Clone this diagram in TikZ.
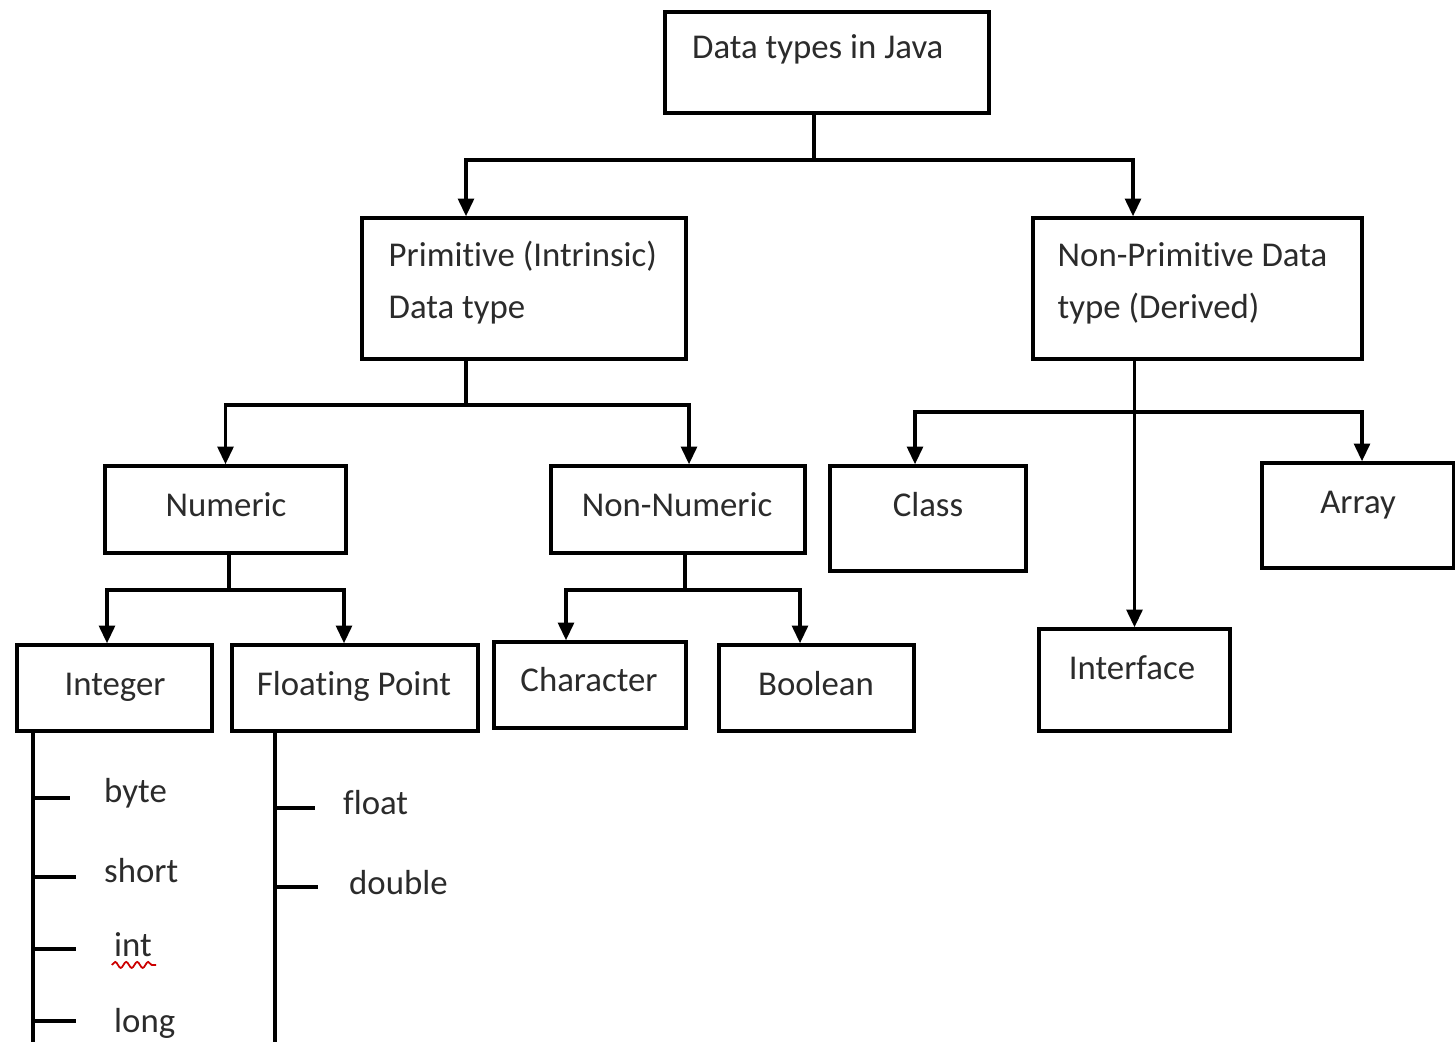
\documentclass[tikz,border=0pt]{standalone}
\usepackage{fontspec}
\setmainfont[Ligatures=NoCommon]{Carlito}
\usetikzlibrary{arrows.meta,calc,decorations.pathmorphing}
\definecolor{Ink}{HTML}{2B2B2B}

\begin{document}
\begin{tikzpicture}[every node/.style={font=\fontsize{9.9}{14.8}\selectfont,text=Ink},box/.style={draw=black,line width=1pt,inner sep=0pt},lbl/.style={inner sep=1pt,text height=1.5ex,text depth=.25ex},twoline/.style={inner sep=0pt,align=left,anchor=west},wire/.style={line width=0.9pt,draw=black},arrow/.style={-{Triangle[length=5pt,width=4.5pt]},line width=0.9pt,draw=black},squig/.style={draw=red!80!black,line width=0.5pt,decorate,decoration={snake,amplitude=0.3mm,segment length=1.1mm}}]
\useasboundingbox (0,0) rectangle (14.55,-10.42);
\fill[white] (0,0) rectangle (14.55,-10.42);

% boxes
\node[box,minimum width=3.24cm,minimum height=1.01cm] (java) at (8.27,-0.625) {}; \node[lbl,anchor=west] (javaT) at (6.88,-0.48) {Data types in Java};
\node[box,minimum width=3.24cm,minimum height=1.41cm] (prim) at (5.24,-2.885) {}; \node[twoline] (primT) at (3.88,-2.83) {Primitive (Intrinsic)\\Data type};
\node[box,minimum width=3.29cm,minimum height=1.41cm] (nprim) at (11.975,-2.885) {}; \node[twoline] (nprimT) at (10.57,-2.83) {Non-Primitive Data\\type (Derived)};
\node[box,minimum width=2.41cm,minimum height=0.87cm] (num) at (2.255,-5.095) {}; \node[lbl] (numT) at (2.26,-5.06) {Numeric};
\node[box,minimum width=2.54cm,minimum height=0.87cm] (nnum) at (6.78,-5.095) {}; \node[lbl] (nnumT) at (6.77,-5.06) {Non-Numeric};
\node[box,minimum width=1.96cm,minimum height=1.05cm] (cls) at (9.28,-5.185) {}; \node[lbl] (clsT) at (9.28,-5.06) {Class};
\node[box,minimum width=1.92cm,minimum height=1.05cm] (arr) at (13.58,-5.155) {}; \node[lbl] (arrT) at (13.58,-5.03) {Array};
\node[box,minimum width=1.95cm,minimum height=0.86cm] (intg) at (1.145,-6.88) {}; \node[lbl] (intgT) at (1.15,-6.85) {Integer};
\node[box,minimum width=2.46cm,minimum height=0.86cm] (flt) at (3.55,-6.88) {}; \node[lbl] (fltT) at (3.54,-6.85) {Floating Point};
\node[box,minimum width=1.92cm,minimum height=0.86cm] (chr) at (5.90,-6.85) {}; \node[lbl] (chrT) at (5.89,-6.81) {Character};
\node[box,minimum width=1.95cm,minimum height=0.86cm] (bool) at (8.165,-6.88) {}; \node[lbl] (boolT) at (8.16,-6.85) {Boolean};
\node[box,minimum width=1.91cm,minimum height=1.02cm] (intf) at (11.345,-6.80) {}; \node[lbl] (intfT) at (11.32,-6.69) {Interface};

% connectors
\coordinate (jbus) at (8.14,-1.6); \draw[wire] (jbus |- java.south) -- (jbus);
\draw[arrow] (jbus) -| ([xshift=-0.58cm]prim.north); \draw[arrow] (jbus) -| ([xshift=-0.645cm]nprim.north);
\coordinate (pbus) at (4.66,-4.05); \draw[wire] (pbus |- prim.south) -- (pbus);
\draw[arrow] (pbus) -| (num.north); \draw[arrow] (pbus) -| ([xshift=0.11cm]nnum.north);
\draw[arrow] (intf.north |- nprim.south) -- (intf.north);
\coordinate (nbus) at (11.345,-4.12);
\draw[arrow] (nbus) -| ([xshift=-0.13cm]cls.north); \draw[arrow] (nbus) -| ([xshift=0.04cm]arr.north);
\coordinate (nmbus) at (2.29,-5.9); \draw[wire] (nmbus |- num.south) -- (nmbus);
\draw[arrow] (nmbus) -| ([xshift=-0.075cm]intg.north); \draw[arrow] (nmbus) -| ([xshift=-0.11cm]flt.north);
\coordinate (nnbus) at (6.85,-5.9); \draw[wire] (nnbus |- nnum.south) -- (nnbus);
\draw[arrow] (nnbus) -| ([xshift=-0.24cm]chr.north); \draw[arrow] (nnbus) -| ([xshift=-0.165cm]bool.north);

% member lists
\coordinate (ispine) at (0.33,-10.42); \draw[wire] (ispine |- intg.south) -- (ispine);
\foreach \nm/\x/\y/\t/\l in {byte/1.00/-7.92/-7.98/0.37,short/1.00/-8.72/-8.77/0.43,int/1.10/-9.46/-9.49/0.43,long/1.10/-10.22/-10.21/0.43}
{\node[lbl,anchor=west] (\nm) at (\x,\y) {\nm}; \draw[wire] (0.33,\t) -- ++(\l,0);}
\draw[squig] ([xshift=0.5pt]int.south west) -- ([xshift=0pt]int.south east);
\coordinate (fspine) at (2.75,-10.42); \draw[wire] (fspine |- flt.south) -- (fspine);
\foreach \nm/\x/\y/\t/\l in {float/3.39/-8.04/-8.08/0.40,double/3.45/-8.84/-8.87/0.43}
{\node[lbl,anchor=west] (\nm) at (\x,\y) {\nm}; \draw[wire] (2.75,\t) -- ++(\l,0);}

\end{tikzpicture}
\end{document}
